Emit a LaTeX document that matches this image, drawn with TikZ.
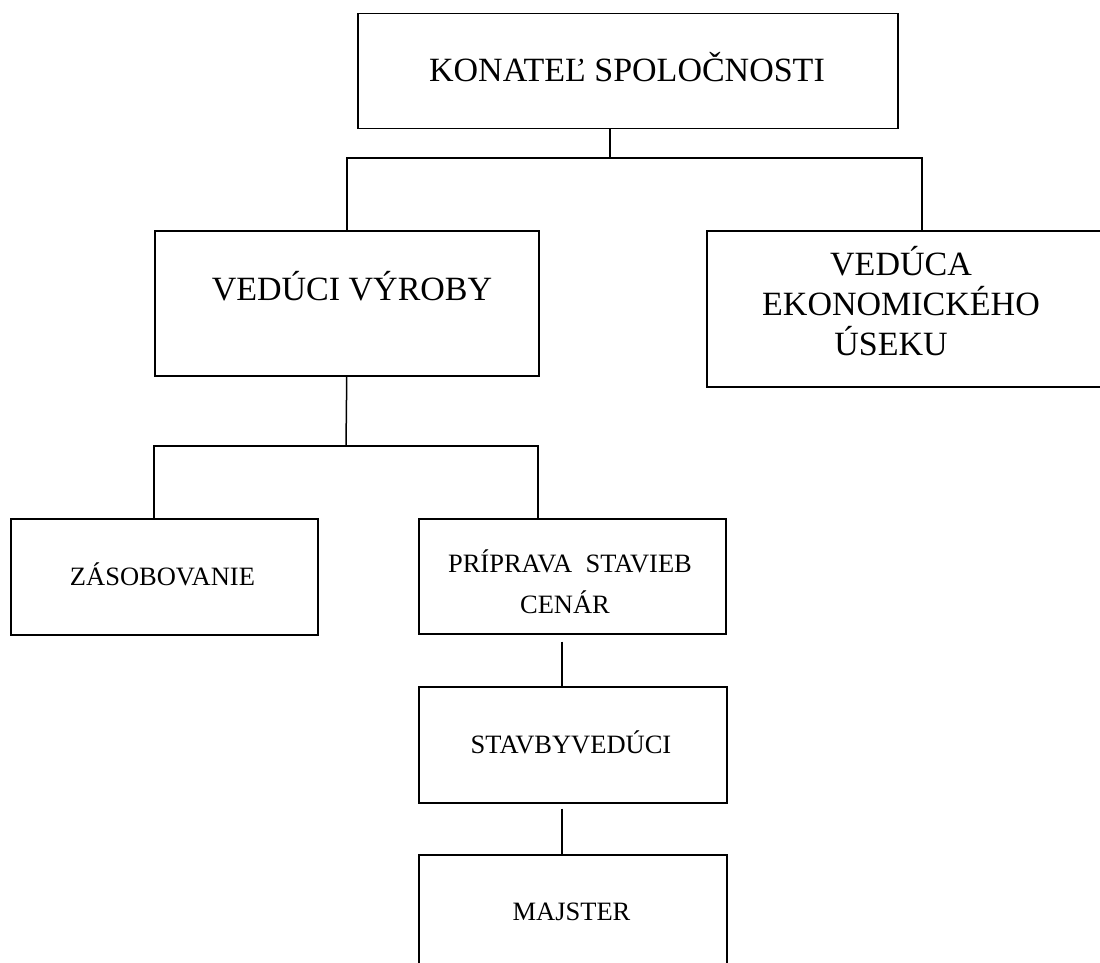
\documentclass[tikz,border=0pt]{standalone}
\usepackage{fontspec}
\setmainfont{Liberation Serif}
\begin{document}
\begin{tikzpicture}[x=1pt,y=-1pt,
  box/.style={draw, line width=1.5pt, inner sep=0pt, anchor=north west},
  big/.style={font=\fontsize{34}{40}\selectfont, anchor=base, inner sep=0pt, align=center},
  small/.style={font=\fontsize{26.5}{41}\selectfont, anchor=base, inner sep=0pt, align=center},
  conn/.style={line width=1.5pt}]
\useasboundingbox (0,0) rectangle (1100,963);
\begin{scope}
\clip (0,0) rectangle (1100,963);
% boxes
\node[box, minimum width=540pt, minimum height=115pt] (kon) at (357,13) {};
\node[box, minimum width=384pt, minimum height=145pt] (vv) at (154,230) {};
\node[box, minimum width=404pt, minimum height=156pt] (ve) at (706,230) {};
\node[box, minimum width=307pt, minimum height=116pt] (zas) at (10,518) {};
\node[box, minimum width=307pt, minimum height=115pt] (pri) at (418,518) {};
\node[box, minimum width=308pt, minimum height=116pt] (sta) at (418,686) {};
\node[box, minimum width=308pt, minimum height=114pt] (maj) at (418,854) {};
% texts (base anchor = baseline of the last line)
\node[big] (konT) at (627,82) {KONATEĽ SPOLOČNOSTI};
\node[big] (vvT) at (352,300) {VEDÚCI VÝROBY};
\node[big] (veT) at (901,355) {VEDÚCA\\EKONOMICKÉHO\\ÚSEKU\rule{20pt}{0pt}};
\node[small] (zasT) at (162.5,585) {ZÁSOBOVANIE};
\node[small] (priT) at (570,613) {PRÍPRAVA~~STAVIEB\\CENÁR\rule{10pt}{0pt}};
\node[small] (staT) at (571,753) {STAVBYVEDÚCI};
\node[small] (majT) at (571.5,920) {MAJSTER};
% connectors
\coordinate (j1) at (610,158);
\coordinate (veIn) at (922,230);
\draw[conn] (kon.south -| j1) -- (j1);
\draw[conn] (vv.north) |- (veIn |- j1) -- (veIn);
\coordinate (j2) at (346,446);
\coordinate (zasIn) at (154,518);
\coordinate (priIn) at (538,518);
\draw[conn] (vv.south) -- (j2);
\draw[conn] (zasIn) |- (priIn |- j2) -- (priIn);
\coordinate (c1) at (562,0);
\draw[conn, shorten <=7pt] (pri.south -| c1) -- (sta.north -| c1);
\draw[conn, shorten <=5pt] (sta.south -| c1) -- (maj.north -| c1);
\end{scope}
\end{tikzpicture}
\end{document}
